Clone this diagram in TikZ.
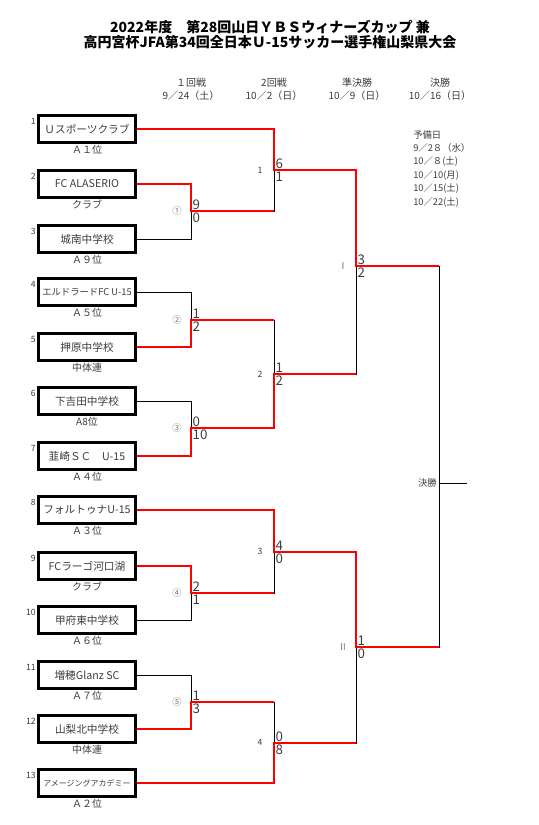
\documentclass[tikz,border=0pt]{standalone}
\usepackage{fontspec}
\setmainfont{Noto Sans CJK JP}
\usepackage{xcolor}
\usepackage{tikz}
\usetikzlibrary{calc}
\definecolor{ink}{HTML}{3C3C3C}
\definecolor{winred}{HTML}{FF0000}
\tikzset{
    team/.style={draw, line width=1.9pt, minimum width=72.5pt, minimum height=20pt, inner sep=0pt, text=ink, font=\fontsize{8}{9}\selectfont},
    sub/.style={inner sep=1pt, text=ink, font=\fontsize{7.5}{9}\selectfont},
    num/.style={inner sep=1pt, text=ink, font=\fontsize{6.5}{7}\selectfont},
    score/.style={inner sep=1pt, text=ink, font=\fontsize{10}{11}\selectfont},
    tag/.style={inner sep=0pt, text=ink!70, font=\fontsize{7}{8}\selectfont},
    hdr/.style={align=center, text=ink, font=\fontsize{7.5}{9.75}\selectfont},
    lose/.style={line width=0.75pt},
    win/.style={line width=1.4pt, draw=winred}
}

\begin{document}
\begin{tikzpicture}[x=0.75pt, y=-0.75pt]
        \useasboundingbox (0,0) rectangle (539,825);
        \node[align=center, font=\bfseries\fontsize{10.5}{11.3}\selectfont] (ttl) at (270,35) {2022年度　第28回山日ＹＢＳウィナーズカップ 兼\\高円宮杯JFA第34回全日本Ｕ-15サッカー選手権山梨県大会};

        \node[hdr] (h1) at (191,89) {１回戦\\9／24（土）};
        \node[hdr] (h2) at (274,89) {2回戦\\10／2（日）};
        \node[hdr] (h3) at (357,89) {準決勝\\10／9（日）};
        \node[hdr] (h4) at (440,89) {決勝\\10／16（日）};
        \node[hdr, align=left, anchor=north west, inner sep=0pt, font=\fontsize{7}{10.1}\selectfont] (rsv) at (413,130) {予備日\\9／2８（水）\\10／８(土)\\10／10(月)\\10／15(土)\\10／22(土)};

        % teams
        \node[team, label={[sub]below:Ａ１位}, label={[num, anchor=north east, yshift=-2pt]north west:1}] (t1) at (87,129) {Ｕスポーツクラブ};
        \node[team, label={[sub]below:クラブ}, label={[num, anchor=north east, yshift=-2pt]north west:2}] (t2) at (87,184) {FC ALASERIO};
        \node[team, label={[sub]below:Ａ９位}, label={[num, anchor=north east, yshift=-2pt]north west:3}] (t3) at (87,239) {城南中学校};
        \node[team, font=\fontsize{7}{8}\selectfont, label={[sub]below:Ａ５位}, label={[num, anchor=north east, yshift=-2pt]north west:4}] (t4) at (87,292) {エルドラードFC U-15};
        \node[team, label={[sub]below:中体連}, label={[num, anchor=north east, yshift=-2pt]north west:5}] (t5) at (87,347) {押原中学校};
        \node[team, label={[sub]below:A8位}, label={[num, anchor=north east, yshift=-2pt]north west:6}] (t6) at (87,401) {下吉田中学校};
        \node[team, label={[sub]below:Ａ４位}, label={[num, anchor=north east, yshift=-2pt]north west:7}] (t7) at (87,456) {韮崎ＳＣ　U-15};
        \node[team, label={[sub]below:Ａ３位}, label={[num, anchor=north east, yshift=-2pt]north west:8}] (t8) at (87,510) {フォルトゥナU-15};
        \node[team, label={[sub]below:クラブ}, label={[num, anchor=north east, yshift=-2pt]north west:9}] (t9) at (87,566) {FCラーゴ河口湖};
        \node[team, label={[sub]below:Ａ６位}, label={[num, anchor=north east, yshift=-2pt]north west:10}] (t10) at (87,620) {甲府東中学校};
        \node[team, label={[sub]below:Ａ７位}, label={[num, anchor=north east, yshift=-2pt]north west:11}] (t11) at (87,675) {増穂Glanz SC};
        \node[team, label={[sub]below:中体連}, label={[num, anchor=north east, yshift=-2pt]north west:12}] (t12) at (87,729) {山梨北中学校};
        \node[team, font=\fontsize{6}{7}\selectfont, label={[sub]below:Ａ２位}, label={[num, anchor=north east, yshift=-2pt]north west:13}] (t13) at (87,783) {アメージングアカデミー};

        % match points
        \coordinate (m1) at (191,211);
        \coordinate (m2) at (191,320);
        \coordinate (m3) at (191,428);
        \coordinate (m4) at (191,593);
        \coordinate (m5) at (191,702);
        \coordinate (q1) at (274,170);
        \coordinate (q2) at (274,374);
        \coordinate (q3) at (274,552);
        \coordinate (q4) at (274,743);
        \coordinate (s1) at (356,266);
        \coordinate (s2) at (356,647);
        \coordinate (f) at (439,483);
        \coordinate (fe) at (467,483);

        % bracket
        \draw[lose] (t1.east) -| (q1);
        \draw[lose] (t2.east) -| (m1);
        \draw[lose] (t3.east) -| (m1);
        \draw[lose] (m1) -| (q1);
        \draw[lose] (t4.east) -| (m2);
        \draw[lose] (t5.east) -| (m2);
        \draw[lose] (t6.east) -| (m3);
        \draw[lose] (t7.east) -| (m3);
        \draw[lose] (m2) -| (q2);
        \draw[lose] (m3) -| (q2);
        \draw[lose] (q1) -| (s1);
        \draw[lose] (q2) -| (s1);
        \draw[lose] (t8.east) -| (q3);
        \draw[lose] (t9.east) -| (m4);
        \draw[lose] (t10.east) -| (m4);
        \draw[lose] (m4) -| (q3);
        \draw[lose] (t11.east) -| (m5);
        \draw[lose] (t12.east) -| (m5);
        \draw[lose] (m5) -| (q4);
        \draw[lose] (t13.east) -| (q4);
        \draw[lose] (q3) -| (s2);
        \draw[lose] (q4) -| (s2);
        \draw[lose] (s1) -| (f);
        \draw[lose] (s2) -| (f);
        \draw[lose] (f) -- (fe);

        % winners
        \draw[win] (t1.east) -| (q1) -| (s1) -- (s1 -| f);
        \draw[win] (t2.east) -| (m1) -- (m1 -| q1);
        \draw[win] (t5.east) -| (m2) -- (m2 -| q2);
        \draw[win] (t7.east) -| (m3) -| (q2) -- (q2 -| s1);
        \draw[win] (t8.east) -| (q3) -| (s2) -- (s2 -| f);
        \draw[win] (t9.east) -| (m4) -- (m4 -| q3);
        \draw[win] (t12.east) -| (m5) -- (m5 -| q4);
        \draw[win] (t13.east) -| (q4) -- (q4 -| s2);

        % match tags
        \node[tag] (m1t) at (177,211) {①};
        \node[tag] (m2t) at (177,320) {②};
        \node[tag] (m3t) at (177,428) {③};
        \node[tag] (m4t) at (177,593) {④};
        \node[tag] (m5t) at (177,702) {⑤};
        \node[tag, text=ink, font=\fontsize{6.5}{7}\selectfont] (q1t) at (260,170) {1};
        \node[tag, text=ink, font=\fontsize{6.5}{7}\selectfont] (q2t) at (260,374) {2};
        \node[tag, text=ink, font=\fontsize{6.5}{7}\selectfont] (q3t) at (260,551) {3};
        \node[tag, text=ink, font=\fontsize{6.5}{7}\selectfont] (q4t) at (260,742) {4};
        \node[tag] (s1t) at (343,266) {Ⅰ};
        \node[tag] (s2t) at (343,647) {Ⅱ};
        \node[tag, text=ink, anchor=east, inner sep=1.5pt] (ft) at (f) {決勝};

        % scores
        \node[score, anchor=south west] (m1a) at (m1) {9};
        \node[score, anchor=north west] (m1b) at (m1) {0};
        \node[score, anchor=south west] (m2a) at (m2) {1};
        \node[score, anchor=north west] (m2b) at (m2) {2};
        \node[score, anchor=south west] (m3a) at (m3) {0};
        \node[score, anchor=north west] (m3b) at (m3) {10};
        \node[score, anchor=south west] (m4a) at (m4) {2};
        \node[score, anchor=north west] (m4b) at (m4) {1};
        \node[score, anchor=south west] (m5a) at (m5) {1};
        \node[score, anchor=north west] (m5b) at (m5) {3};
        \node[score, anchor=south west] (q1a) at (q1) {6};
        \node[score, anchor=north west] (q1b) at (q1) {1};
        \node[score, anchor=south west] (q2a) at (q2) {1};
        \node[score, anchor=north west] (q2b) at (q2) {2};
        \node[score, anchor=south west] (q3a) at (q3) {4};
        \node[score, anchor=north west] (q3b) at (q3) {0};
        \node[score, anchor=south west] (q4a) at (q4) {0};
        \node[score, anchor=north west] (q4b) at (q4) {8};
        \node[score, anchor=south west] (s1a) at (s1) {3};
        \node[score, anchor=north west] (s1b) at (s1) {2};
        \node[score, anchor=south west] (s2a) at (s2) {1};
        \node[score, anchor=north west] (s2b) at (s2) {0};
\end{tikzpicture}
\end{document}
